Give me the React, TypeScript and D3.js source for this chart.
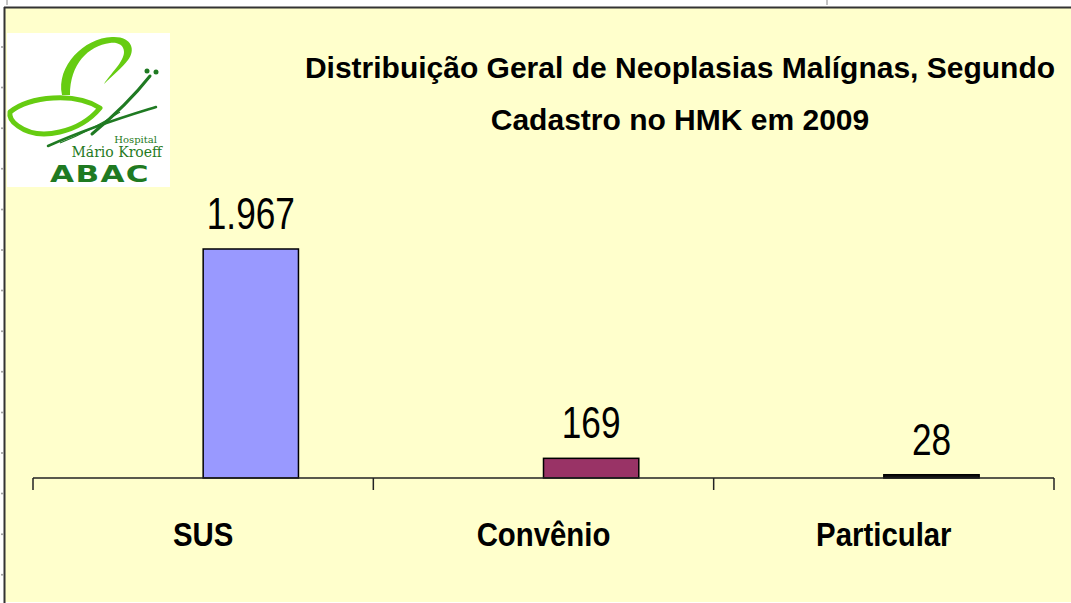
import React from 'react';
import * as d3 from 'd3';

// chart data
const categories = ['SUS', 'Convênio', 'Particular'];
const values = [1967, 169, 28];
const valueLabels = ['1.967', '169', '28'];
const barColors = ['#9999FF', '#993366', '#111111'];
const titleLines = ['Distribuição Geral de Neoplasias Malígnas, Segundo', 'Cadastro no HMK em 2009'];

const W = 1071;
const H = 603;
const FONT = "'Liberation Sans', Arial, sans-serif";

function Logo() {
  const light = '#66CC11';
  const dark = '#1F7A22';
  return (
    <g>
      <rect x={7} y={33} width={163} height={154} fill="#ffffff" />
      {/* upper wing */}
      <path
        d="M 62 95 C 56 66, 84 38, 112 37 C 132 36, 136 50, 128 60 C 122 68, 112 76, 104 84 C 110 74, 124 62, 124 52 C 124 44, 116 42, 110 43 C 88 46, 70 64, 70 95 Z"
        fill={light}
      />
      {/* lower wing */}
      <path
        d="M 10 112 C 30 96, 75 92, 100 108 C 80 132, 40 142, 18 126 C 12 122, 9 117, 10 112 Z"
        fill="none"
        stroke={light}
        strokeWidth={5}
        strokeLinejoin="round"
      />
      {/* body */}
      <path d="M 150 76 C 135 95, 115 115, 92 134" fill="none" stroke={dark} strokeWidth={3} strokeLinecap="round" />
      <path d="M 156 107 C 130 115, 95 125, 48 146" fill="none" stroke={dark} strokeWidth={2.5} strokeLinecap="round" />
      <path d="M 120 112 C 100 125, 80 135, 60 143" fill="none" stroke={dark} strokeWidth={1.2} />
      <circle cx={147} cy={71} r={2.5} fill={dark} />
      <circle cx={156} cy={72} r={2.5} fill={dark} />
      <text x={157} y={143} textAnchor="end" fontFamily="'DejaVu Serif', serif" fontSize={10} fill={dark}>
        Hospital
      </text>
      <text x={162} y={157} textAnchor="end" fontFamily="'DejaVu Serif', serif" fontSize={14} fill={dark}>
        Mário Kroeff
      </text>
      <text
        transform="translate(100 182) scale(1.35 1)"
        textAnchor="middle"
        fontFamily="'DejaVu Sans', sans-serif"
        fontWeight="bold"
        fontSize={23}
        letterSpacing={1}
        fill={dark}
      >
        ABAC
      </text>
    </g>
  );
}

export default function App() {
  const axisY = 478;
  const x = d3.scaleBand<string>().domain(categories).range([33, 1054]).padding(0);
  const y = d3.scaleLinear().domain([0, 2000]).range([axisY, axisY - (229 * 2000) / 1967]);
  const barW = x.bandwidth() * 0.28;
  const ticks = [...categories.map((c) => x(c) as number), 1054];
  const rulerDots = d3.range(47, 600, 40.6);

  return (
    <svg
      width={W}
      height={H}
      style={{ position: 'fixed', left: 0, top: 0, display: 'block', background: '#ffffff' }}
    >
      <rect x={5} y={8} width={W - 5} height={594} fill="#FFFFCC" />
      {/* frame */}
      <line x1={4.5} y1={7} x2={4.5} y2={603} stroke="#333" strokeWidth={2} />
      <line x1={4} y1={7.5} x2={W} y2={7.5} stroke="#333" strokeWidth={2} />
      <line x1={7} y1={0} x2={7} y2={5} stroke="#888" strokeWidth={1} />
      <line x1={827} y1={0} x2={827} y2={5} stroke="#888" strokeWidth={1} />
      {rulerDots.map((d, i) => (
        <circle key={i} cx={2} cy={d} r={1} fill="#999" />
      ))}

      <Logo />

      {/* title */}
      {titleLines.map((t, i) => (
        <text
          key={i}
          x={680}
          y={78 + i * 52}
          textAnchor="middle"
          fontFamily={FONT}
          fontWeight="bold"
          fontSize={30}
          fill="#000"
        >
          {t}
        </text>
      ))}

      {/* bars */}
      {categories.map((c, i) => {
        const bx = (x(c) as number) + x.bandwidth() / 2;
        return (
          <rect
            key={c}
            x={bx}
            y={y(values[i])}
            width={barW}
            height={axisY - y(values[i])}
            fill={barColors[i]}
            stroke="#000"
            strokeWidth={1.5}
          />
        );
      })}

      {/* axis */}
      <line x1={33} x2={1054} y1={axisY} y2={axisY} stroke="#222" strokeWidth={1.5} />
      {ticks.map((t, i) => (
        <line key={i} x1={t} x2={t} y1={axisY} y2={axisY + 12} stroke="#222" strokeWidth={1.5} />
      ))}

      {/* value labels */}
      {categories.map((c, i) => {
        const cx = (x(c) as number) + x.bandwidth() / 2 + barW / 2;
        const cy = y(values[i]) - 20;
        return (
          <text
            key={c}
            transform={`translate(${cx} ${cy}) scale(0.8 1)`}
            textAnchor="middle"
            fontFamily={FONT}
            fontSize={44}
            fill="#000"
          >
            {valueLabels[i]}
          </text>
        );
      })}

      {/* category labels */}
      {categories.map((c) => {
        const cx = (x(c) as number) + x.bandwidth() / 2;
        return (
          <text
            key={c}
            transform={`translate(${cx} 546) scale(0.89 1)`}
            textAnchor="middle"
            fontFamily={FONT}
            fontWeight="bold"
            fontSize={33}
            fill="#000"
          >
            {c}
          </text>
        );
      })}
    </svg>
  );
}
